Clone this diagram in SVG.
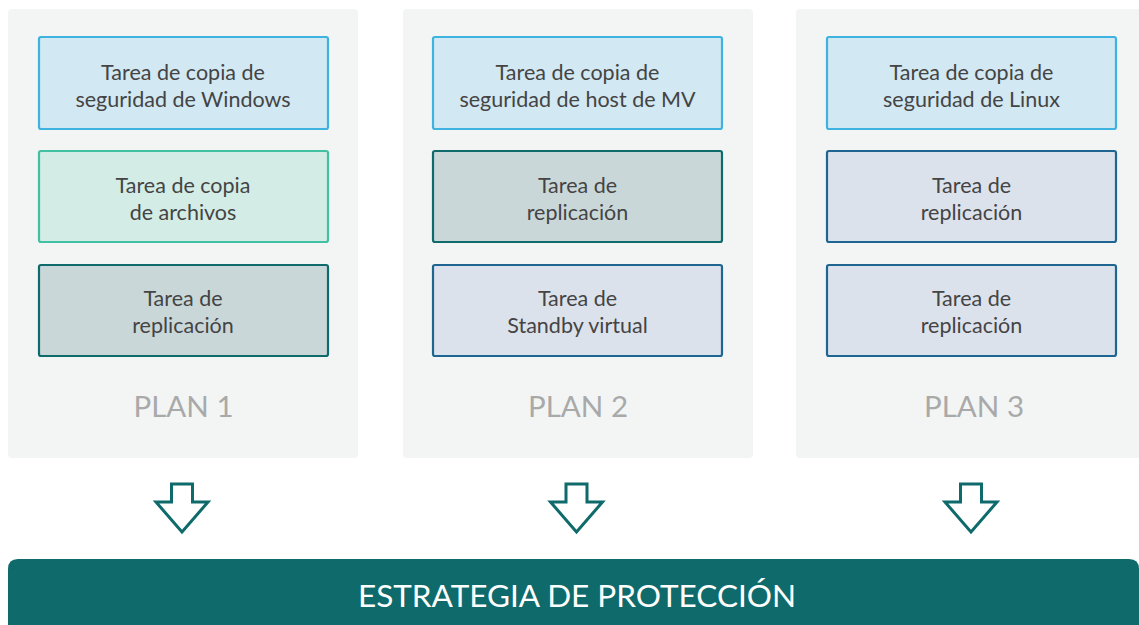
<svg xmlns="http://www.w3.org/2000/svg" width="1139" height="625" viewBox="0 0 1139 625">
<style>
.panel{fill:#f3f5f5}
.box{stroke-width:2.2}
.b-blue{fill:#d2e8f2;stroke:#3eb3e0}
.b-green{fill:#d3ece6;stroke:#42c0a2}
.b-teal{fill:#cad7d9;stroke:#0f6a6b}
.b-navy{fill:#dce2ec;stroke:#1e6592}
.t{font-family:Lato,"Open Sans","Liberation Sans",sans-serif;font-size:21.5px;fill:#444;text-anchor:middle}
.plan{font-family:Lato,"Open Sans","Liberation Sans",sans-serif;font-size:29.5px;fill:#a9a9a9;text-anchor:middle}
.arrow{fill:#fff;stroke:#0e6a6b;stroke-width:3;stroke-linejoin:miter}
.bar{fill:#0e6a6b}
.bt{font-family:Lato,"Open Sans","Liberation Sans",sans-serif;font-size:31.5px;fill:#fff;text-anchor:middle}
</style>
<rect width="1139" height="625" fill="#fff"/>
<g id="plan1">
<rect class="panel" x="8" y="9" width="350" height="449" rx="4"/>
<text class="plan" x="183.5" y="417">PLAN 1</text>
</g>
<g id="plan2">
<rect class="panel" x="403" y="9" width="350" height="449" rx="4"/>
<text class="plan" x="578" y="417">PLAN 2</text>
</g>
<g id="plan3">
<rect class="panel" x="796" y="9" width="350" height="449" rx="4"/>
<text class="plan" x="974" y="417">PLAN 3</text>
</g>
<g id="p1-windows"><rect class="box b-blue" x="39" y="37" width="289" height="92" rx="2"/><text class="t" x="183" y="80">Tarea de copia de</text><text class="t" x="183" y="107">seguridad de Windows</text></g>
<g id="p1-archivos"><rect class="box b-green" x="39" y="151" width="289" height="91" rx="2"/><text class="t" x="183" y="193">Tarea de copia</text><text class="t" x="183" y="220">de archivos</text></g>
<g id="p1-replicacion"><rect class="box b-teal" x="39" y="265" width="289" height="91" rx="2"/><text class="t" x="183" y="306">Tarea de</text><text class="t" x="183" y="333">replicación</text></g>
<g id="p2-host"><rect class="box b-blue" x="433" y="37" width="289" height="92" rx="2"/><text class="t" x="577.5" y="80">Tarea de copia de</text><text class="t" x="577.5" y="107">seguridad de host de MV</text></g>
<g id="p2-replicacion"><rect class="box b-teal" x="433" y="151" width="289" height="91" rx="2"/><text class="t" x="577.5" y="193">Tarea de</text><text class="t" x="577.5" y="220">replicación</text></g>
<g id="p2-standby"><rect class="box b-navy" x="433" y="265" width="289" height="91" rx="2"/><text class="t" x="577.5" y="306">Tarea de</text><text class="t" x="577.5" y="333">Standby virtual</text></g>
<g id="p3-linux"><rect class="box b-blue" x="827" y="37" width="289" height="92" rx="2"/><text class="t" x="971.5" y="80">Tarea de copia de</text><text class="t" x="971.5" y="107">seguridad de Linux</text></g>
<g id="p3-replicacion1"><rect class="box b-navy" x="827" y="151" width="289" height="91" rx="2"/><text class="t" x="971.5" y="193">Tarea de</text><text class="t" x="971.5" y="220">replicación</text></g>
<g id="p3-replicacion2"><rect class="box b-navy" x="827" y="265" width="289" height="91" rx="2"/><text class="t" x="971.5" y="306">Tarea de</text><text class="t" x="971.5" y="333">replicación</text></g>
<g id="connectors">
<path class="arrow" d="M171.5 484 H192.5 V502 H208 L182 532 L156 502 H171.5 Z"/>
<path class="arrow" d="M566 484 H587 V502 H602.5 L576.5 532 L550.5 502 H566 Z"/>
<path class="arrow" d="M960.5 484 H981.5 V502 H997 L971 532 L945 502 H960.5 Z"/>
</g>
<g id="estrategia">
<path class="bar" d="M8 569 Q8 559 18 559 H1129 Q1139 559 1139 569 V625 H8 Z"/>
<text class="bt" x="577" y="607">ESTRATEGIA DE PROTECCIÓN</text>
</g>
</svg>
